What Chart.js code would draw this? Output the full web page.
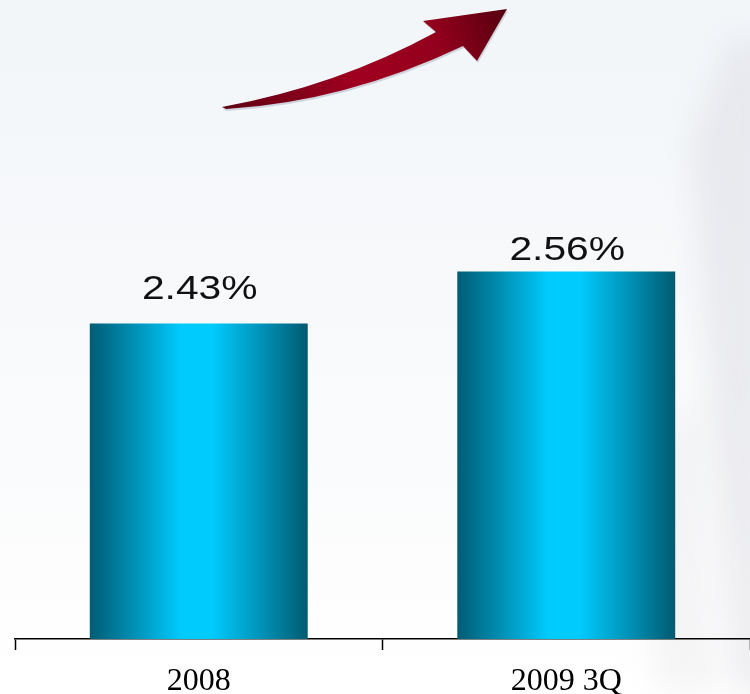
<!DOCTYPE html>
<html>
<head>
<meta charset="utf-8">
<script src="https://cdn.jsdelivr.net/npm/chart.js@4.4.1/dist/chart.umd.min.js"></script>
<style>
  html, body { margin: 0; padding: 0; background: #ffffff; }
  #wrap { width: 750px; height: 694px; }
</style>
</head>
<body>
<div id="wrap"><canvas id="c"></canvas></div>
<script>
var categories = ["2008", "2009 3Q"];
var ratios = [2.43, 2.56];
var ratioLabels = ["2.43%", "2.56%"];
var yMin = 1.64;
var yMax = 3.24;

var barShare = 0.593;
// gap between bar top and label baseline, per bar
var labelGap = [24, 12];

function barFill(context) {
    var chart = context.chart;
    var xs = chart.scales.x;
    if (!chart.chartArea || !xs) return "#00aedb";
    var cx = xs.getPixelForValue(context.dataIndex);
    var half = (chart.chartArea.width / categories.length) * barShare / 2;
    if (!isFinite(cx) || !isFinite(half)) return "#00aedb";
    var g = chart.ctx.createLinearGradient(cx - half, 0, cx + half, 0);
    g.addColorStop(0, "#005c74");
    g.addColorStop(0.2, "#008fb4");
    g.addColorStop(0.42, "#00cbfd");
    g.addColorStop(0.56, "#00cbfd");
    g.addColorStop(0.8, "#008fb4");
    g.addColorStop(1, "#005a70");
    return g;
}

var backdrop = {
    id: "backdrop",
    beforeDraw: function (chart) {
        var ctx = chart.ctx, w = chart.width, h = chart.height;
        ctx.save();
        var g = ctx.createLinearGradient(0, 0, 0, h);
        g.addColorStop(0, "#f2f6f9");
        g.addColorStop(0.45, "#f8f9fb");
        g.addColorStop(1, "#ffffff");
        ctx.fillStyle = g;
        ctx.fillRect(0, 0, w, h);
        // soft grey shapes on the right side
        ctx.filter = "blur(14px)";
        ctx.fillStyle = "rgba(218,218,224,0.45)";
        ctx.beginPath();
        ctx.moveTo(690, 140);
        ctx.lineTo(730, 40);
        ctx.lineTo(770, 40);
        ctx.lineTo(770, 694);
        ctx.lineTo(735, 694);
        ctx.closePath();
        ctx.fill();
        ctx.fillStyle = "rgba(228,228,232,0.35)";
        ctx.beginPath();
        ctx.moveTo(620, 480);
        ctx.lineTo(700, 400);
        ctx.lineTo(720, 694);
        ctx.lineTo(660, 694);
        ctx.closePath();
        ctx.fill();
        ctx.restore();
    }
};

var arrow = {
    id: "arrow",
    beforeDatasetsDraw: function (chart) {
        var ctx = chart.ctx;
        ctx.save();
        function shape() {
            ctx.beginPath();
            ctx.moveTo(222, 107);
            ctx.quadraticCurveTo(337, 86, 436, 32);
            ctx.lineTo(423, 21);
            ctx.lineTo(507, 9);
            ctx.lineTo(477, 61);
            ctx.lineTo(463, 46);
            ctx.quadraticCurveTo(345, 102, 226, 109);
            ctx.closePath();
        }
        ctx.translate(1, 2);
        shape();
        ctx.fillStyle = "rgba(190,198,210,0.7)";
        ctx.fill();
        ctx.translate(-1, -2);
        var g = ctx.createLinearGradient(222, 107, 507, 9);
        g.addColorStop(0, "#5e0012");
        g.addColorStop(0.45, "#a0001f");
        g.addColorStop(0.75, "#92001c");
        g.addColorStop(1, "#55000f");
        shape();
        ctx.fillStyle = g;
        ctx.fill();
        ctx.restore();
    }
};

var valueLabels = {
    id: "valueLabels",
    afterDatasetsDraw: function (chart) {
        var ctx = chart.ctx;
        var meta = chart.getDatasetMeta(0);
        ctx.save();
        ctx.fillStyle = "#111111";
        ctx.font = "34px 'Liberation Sans', Arial, sans-serif";
        ctx.textAlign = "center";
        ctx.textBaseline = "alphabetic";
        meta.data.forEach(function (bar, i) {
            ctx.save();
            ctx.translate(bar.x + 1, bar.y - labelGap[i]);
            ctx.scale(1.2, 1);
            ctx.fillText(ratioLabels[i], 0, 0);
            ctx.restore();
        });
        ctx.restore();
    }
};

new Chart(document.getElementById("c"), {
    type: "bar",
    data: {
        labels: categories,
        datasets: [{
            data: ratios,
            backgroundColor: barFill,
            borderWidth: 0,
            categoryPercentage: 1,
            barPercentage: barShare
        }]
    },
    options: {
        responsive: true,
        maintainAspectRatio: false,
        animation: false,
        layout: { padding: { left: 15, right: 0, top: 0, bottom: 0 } },
        plugins: {
            legend: { display: false },
            tooltip: { enabled: false }
        },
        scales: {
            y: {
                display: false,
                min: yMin,
                max: yMax
            },
            x: {
                afterFit: function (s) { s.height = 55; },
                border: { display: true, color: "#000000", width: 1.5 },
                grid: {
                    display: true,
                    offset: true,
                    drawOnChartArea: false,
                    drawTicks: true,
                    tickLength: 11,
                    tickWidth: 1.5,
                    tickColor: "#000000"
                },
                ticks: {
                    color: "#000000",
                    padding: 12,
                    font: { family: "'Liberation Serif', 'Times New Roman', serif", size: 32 }
                }
            }
        }
    },
    plugins: [backdrop, arrow, valueLabels]
});
</script>
</body>
</html>
